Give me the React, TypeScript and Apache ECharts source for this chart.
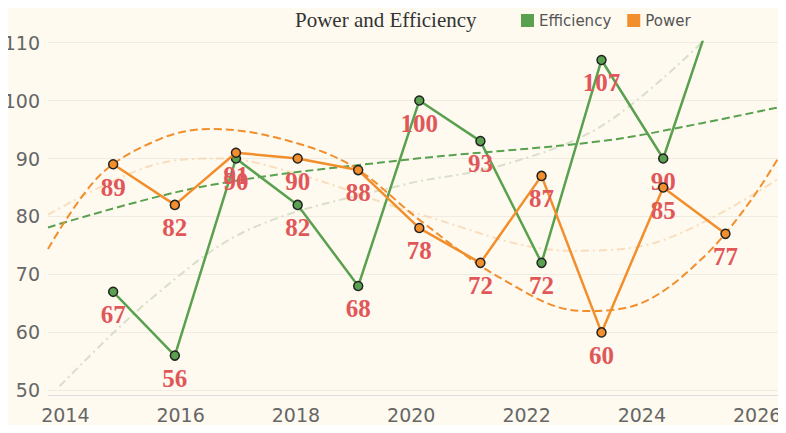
import { useEffect, useRef } from 'react'
import * as echarts from 'echarts'

// ─── data ───
const yearTicks = [2014, 2016, 2018, 2020, 2022, 2024, 2026]
const valueTicks = [50, 60, 70, 80, 90, 100, 110]

const pointYears = [2014.83, 2015.9, 2016.96, 2018.03, 2019.08, 2020.14, 2021.2, 2022.26, 2023.3, 2024.37, 2025.45]
const efficiency = [67, 56, 90, 82, 68, 100, 93, 72, 107, 90, 122]
const power = [89, 82, 91, 90, 88, 78, 72, 87, 60, 85, 77]

// trend curves
const effTrend: [number, number][] = [[2013.7, 78.1], [2016.35, 85.1], [2019.83, 89.7], [2023.3, 93], [2025.04, 96.1], [2026.54, 99.2]]
const powTrend: [number, number][] = [[2013.7, 74.4], [2014.6, 87.1], [2015.65, 93.4], [2016.52, 95.1], [2017.74, 93.4], [2018.96, 88.8], [2020.17, 79.2], [2021.56, 69.3], [2022.96, 63.7], [2024, 65.1], [2025.04, 72.7], [2025.9, 82.9], [2026.54, 93]]
const effFaint: [number, number][] = [[2013.9, 50.7], [2015.5, 65.9], [2017.2, 77.8], [2019.83, 85.4], [2021.56, 88.8], [2023.3, 95.6], [2025.04, 110]]
const powFaint: [number, number][] = [[2013.7, 80.3], [2015.5, 88.8], [2016.7, 90], [2018.1, 87.1], [2020.17, 80.3], [2022.78, 74.1], [2024.17, 75.3], [2026.54, 87.6]]

const GREEN = '#59a14f'
const ORANGE = '#f28e2b'
const LABEL = '#e15759'

export default function App() {
  const ref = useRef<HTMLDivElement>(null)

  useEffect(() => {
    if (!ref.current) return
    const chart = echarts.init(ref.current, undefined, { renderer: 'svg' })

    const label = {
      show: true, position: 'bottom' as const, distance: 5,
      fontFamily: 'Liberation Serif', fontWeight: 'bold' as const, fontSize: 25, color: LABEL,
    }
    const trend = (data: [number, number][], color: string, type: any, width: number, opacity: number) => ({
      type: 'line', data, smooth: 0.35, symbol: 'none', silent: true,
      lineStyle: { color, type, width, opacity }, z: 1,
    })

    chart.setOption({
      animation: false,
      backgroundColor: '#fefaf0',
      title: {
        text: 'Power and Efficiency', left: 290, top: 4,
        textStyle: { fontFamily: 'Liberation Serif', fontWeight: 'normal', fontSize: 21, color: '#333' },
      },
      legend: {
        data: ['Efficiency', 'Power'], left: 516, top: 8,
        icon: 'rect', itemWidth: 13, itemHeight: 13, itemGap: 16,
        itemStyle: { borderWidth: 0 },
        textStyle: { fontFamily: 'DejaVu Sans', fontSize: 15, color: '#555' },
      },
      grid: { left: 48, right: 0, top: 42, bottom: 38 },
      xAxis: {
        type: 'value', min: 2013.7, max: 2026.5,
        axisLine: { show: true, lineStyle: { color: '#ddd' } },
        axisTick: { show: false },
        splitLine: { show: false },
        axisLabel: { customValues: yearTicks, formatter: (v: number) => String(v), fontSize: 19, color: '#666', fontFamily: 'DejaVu Sans', margin: 10 },
      },
      yAxis: {
        type: 'value', min: 49.2, max: 110.1,
        axisLine: { show: false }, axisTick: { show: false },
        splitLine: { show: true, lineStyle: { color: '#f1ece2' } },
        axisLabel: { customValues: valueTicks, fontSize: 19, color: '#666', fontFamily: 'DejaVu Sans' },
      },
      series: [
        trend(effFaint, '#cfd8bf', [8, 4, 2, 4], 2, 0.8),
        trend(powFaint, '#f6d7b0', [8, 4, 2, 4], 2, 0.8),
        trend(effTrend, GREEN, [8, 4], 2, 1),
        trend(powTrend, ORANGE, [8, 4], 2, 1),
        {
          name: 'Efficiency', type: 'line', z: 3, color: '#7fb36f',
          data: pointYears.map((x, i) => [x, efficiency[i]]),
          lineStyle: { color: GREEN, width: 2.5 }, itemStyle: { color: GREEN, borderColor: '#222', borderWidth: 1.5 },
          symbol: 'circle', symbolSize: 9, label,
        },
        {
          name: 'Power', type: 'line', z: 4, color: '#f7a550',
          data: pointYears.map((x, i) => [x, power[i]]),
          lineStyle: { color: ORANGE, width: 2.5 }, itemStyle: { color: ORANGE, borderColor: '#222', borderWidth: 1.5 },
          symbol: 'circle', symbolSize: 9, label,
        },
      ],
    })

    return () => chart.dispose()
  }, [])

  return <div ref={ref} style={{ width: 786, height: 433, margin: -8 }} />
}
